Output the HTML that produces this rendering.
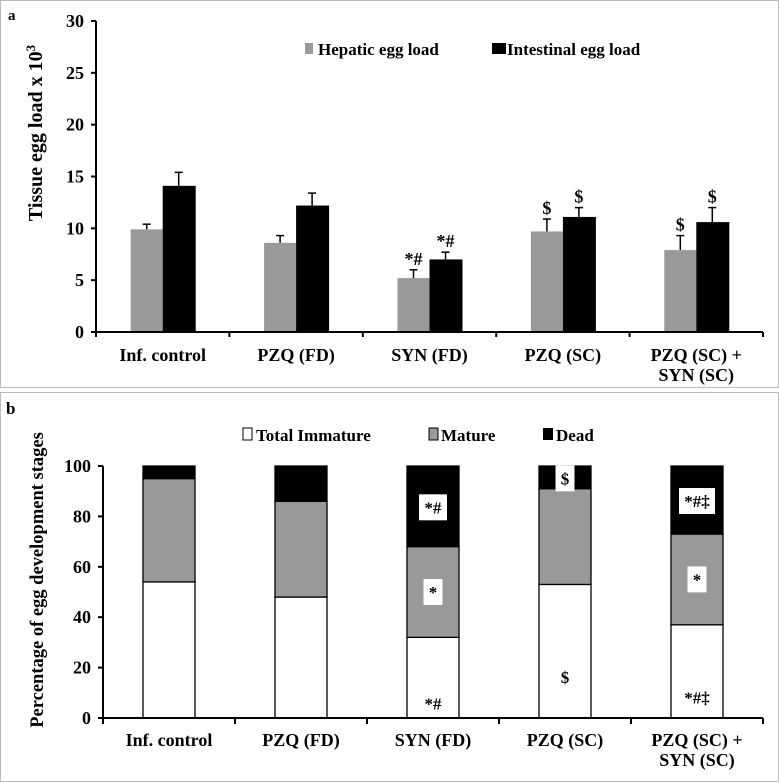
<!DOCTYPE html>
<html><head><meta charset="utf-8"><style>
body{margin:0;background:#fff}
svg{display:block;font-family:"Liberation Serif",serif;font-weight:bold}
</style></head><body>
<svg id="s" width="779" height="783" viewBox="0 0 779 783" xmlns="http://www.w3.org/2000/svg">
<rect x="0.5" y="0.5" width="778" height="387" fill="none" stroke="#bbb"/>
<rect x="0.5" y="392.5" width="778" height="389" fill="none" stroke="#bbb"/>
<text x="8" y="20" font-size="15">a</text>
<text x="6" y="414" font-size="17">b</text>
<g id="ga"></g><g id="gb"></g>
</svg>
<script>
const NS="http://www.w3.org/2000/svg";
const categories=["Inf. control","PZQ (FD)","SYN (FD)","PZQ (SC)","PZQ (SC) +|SYN (SC)"];
const hepatic=[9.9,8.6,5.2,9.7,7.9];
const hepaticErr=[0.5,0.7,0.8,1.2,1.4];
const intestinal=[14.1,12.2,7.0,11.1,10.6];
const intestinalErr=[1.3,1.2,0.7,0.9,1.4];
const hepaticMarks=["","","*#","$","$"];
const intestinalMarks=["","","*#","$","$"];
const yTicksA=[0,5,10,15,20,25,30];
const immature=[54,48,32,53,37];
const mature=[41,38,36,38,36];
const dead=[5,14,32,9,27];
const immatureMarks=["","","*#","$","*#‡"];
const matureMarks=["","","*","","*"];
const deadMarks=["","","*#","$","*#‡"];
const yTicksB=[0,20,40,60,80,100];

function el(p,t,a,txt){const e=document.createElementNS(NS,t);for(const k in a)e.setAttribute(k,a[k]);if(txt!==undefined)e.textContent=txt;p.appendChild(e);return e;}

// Panel A
const ga=document.getElementById('ga');
const ax0=96,ax1=763,ay0=332,ay1=21;
const ya=v=>ay0-(v/30)*(ay0-ay1);
const bwA=(ax1-ax0)/categories.length;
const cxA=i=>ax0+bwA*(i+0.5);
yTicksA.forEach(t=>{
 let tk=el(ga,'line',{x1:ax0-5,x2:ax0,y1:ya(t),y2:ya(t),stroke:'#000','stroke-width':2});
 
 let l=el(ga,'text',{x:ax0-12,y:ya(t)+6,'font-size':18,'text-anchor':'end'},t);
 
});
categories.forEach((c,i)=>{
 const x=cxA(i);
 const g=ax0+bwA*i;
 let tk=el(ga,'line',{x1:g,x2:g,y1:ay0,y2:ay0+5,stroke:'#000','stroke-width':2});
 
 const hy=ya(hepatic[i]),iy=ya(intestinal[i]);
 let e1=el(ga,'line',{x1:x-16,x2:x-16,y1:hy,y2:ya(hepatic[i]+hepaticErr[i]),stroke:'#000','stroke-width':1.5});
 
 el(ga,'line',{x1:x-20,x2:x-12,y1:ya(hepatic[i]+hepaticErr[i]),y2:ya(hepatic[i]+hepaticErr[i]),stroke:'#000','stroke-width':1.5});
 let e2=el(ga,'line',{x1:x+16,x2:x+16,y1:iy,y2:ya(intestinal[i]+intestinalErr[i]),stroke:'#000','stroke-width':1.5});
 
 el(ga,'line',{x1:x+12,x2:x+20,y1:ya(intestinal[i]+intestinalErr[i]),y2:ya(intestinal[i]+intestinalErr[i]),stroke:'#000','stroke-width':1.5});
 let b1=el(ga,'rect',{x:x-32,y:hy,width:32,height:ay0-hy,fill:'#999'});
 
 let b2=el(ga,'rect',{x:x,y:iy,width:33,height:ay0-iy,fill:'#000'});
 
 if(hepaticMarks[i]){let m=el(ga,'text',{x:x-16,y:ya(hepatic[i]+hepaticErr[i])-5,'font-size':18,'text-anchor':'middle'},hepaticMarks[i]);}
 if(intestinalMarks[i]){let m=el(ga,'text',{x:x+16,y:ya(intestinal[i]+intestinalErr[i])-5,'font-size':18,'text-anchor':'middle'},intestinalMarks[i]);}
 c.split('|').forEach((ln,k)=>{let t=el(ga,'text',{x:x,y:361+k*20,'font-size':18,'text-anchor':'middle'},ln);});
});
{let g=ax0+bwA*categories.length;el(ga,'line',{x1:g,x2:g,y1:ay0,y2:ay0+5,stroke:'#000','stroke-width':2});}
let axA=el(ga,'path',{d:`M${ax0},${ay1} V${ay0} H${ax1}`,fill:'none',stroke:'#000','stroke-width':2});

let ta=el(ga,'text',{x:0,y:0,'font-size':20,'text-anchor':'middle',transform:'translate(42,133) rotate(-90)'});

ta.innerHTML='Tissue egg load x 10<tspan dy="-7" font-size="13">3</tspan>';
el(ga,'rect',{x:305,y:43,width:8,height:11,fill:'#999',});
el(ga,'text',{x:318,y:55,'font-size':17,},'Hepatic egg load');
el(ga,'rect',{x:492,y:43,width:14,height:11,fill:'#000',});
el(ga,'text',{x:507,y:55,'font-size':17,},'Intestinal egg load');

// Panel B
const gb=document.getElementById('gb');
const bx0=103,bx1=763,by0=718,by1=466;
const yb=v=>by0-(v/100)*(by0-by1);
const bwB=(bx1-bx0)/categories.length;
yTicksB.forEach(t=>{
 let tk=el(gb,'line',{x1:bx0-5,x2:bx0,y1:yb(t),y2:yb(t),stroke:'#000','stroke-width':2});
 
 let l=el(gb,'text',{x:bx0-12,y:yb(t)+6,'font-size':18,'text-anchor':'end'},t);
 
});
function markBox(x,y,txt,boxed){
 if(!txt)return;
 const w=txt.length>2?36:txt.length>1?28:19;
 if(boxed){let r=el(gb,'rect',{x:x-w/2,y:y-13,width:w,height:26,fill:'#fff'});}
 let t=el(gb,'text',{x:x,y:y+6,'font-size':17,'text-anchor':'middle'},txt);
 
}
categories.forEach((c,i)=>{
 const x=bx0+bwB*(i+0.5), g=bx0+bwB*i;
 el(gb,'line',{x1:g,x2:g,y1:by0,y2:by0+6,stroke:'#000','stroke-width':2});
 const w=52;
 const s1=immature[i],s2=s1+mature[i],s3=s2+dead[i];
 let r1=el(gb,'rect',{x:x-w/2,y:yb(s1),width:w,height:yb(0)-yb(s1),fill:'#fff',stroke:'#000','stroke-width':1.3});
 
 let r2=el(gb,'rect',{x:x-w/2,y:yb(s2),width:w,height:yb(s1)-yb(s2),fill:'#999',stroke:'#000','stroke-width':1.3});
 
 let r3=el(gb,'rect',{x:x-w/2,y:yb(s3),width:w,height:yb(s2)-yb(s3),fill:'#000',stroke:'#000','stroke-width':1.3});
 
 markBox(x,(yb(0)+yb(s1))/2+26,immatureMarks[i],false);
 markBox(x,(yb(s1)+yb(s2))/2,matureMarks[i],true);
 markBox(x,(yb(s2)+yb(s3))/2+1,deadMarks[i],true);
 c.split('|').forEach((ln,k)=>{let t=el(gb,'text',{x:x,y:746+k*20,'font-size':18,'text-anchor':'middle'},ln);});
});
{let g=bx0+bwB*categories.length;el(gb,'line',{x1:g,x2:g,y1:by0,y2:by0+6,stroke:'#000','stroke-width':2});}
let axB=el(gb,'path',{d:`M${bx0},${by1} V${by0} H${bx1}`,fill:'none',stroke:'#000','stroke-width':2});

let tb=el(gb,'text',{x:0,y:0,'font-size':18.5,'text-anchor':'middle',transform:'translate(43,580) rotate(-90)'},'Percentage of egg development stages');

el(gb,'rect',{x:243,y:428,width:9,height:12,fill:'#fff',stroke:'#000',});
el(gb,'text',{x:256,y:441,'font-size':17,},'Total Immature');
el(gb,'rect',{x:429,y:428,width:9,height:12,fill:'#999',stroke:'#000',});
el(gb,'text',{x:441,y:441,'font-size':17,},'Mature');
el(gb,'rect',{x:543,y:428,width:10,height:12,fill:'#000',});
el(gb,'text',{x:556,y:441,'font-size':17,},'Dead');
</script>
</body></html>
